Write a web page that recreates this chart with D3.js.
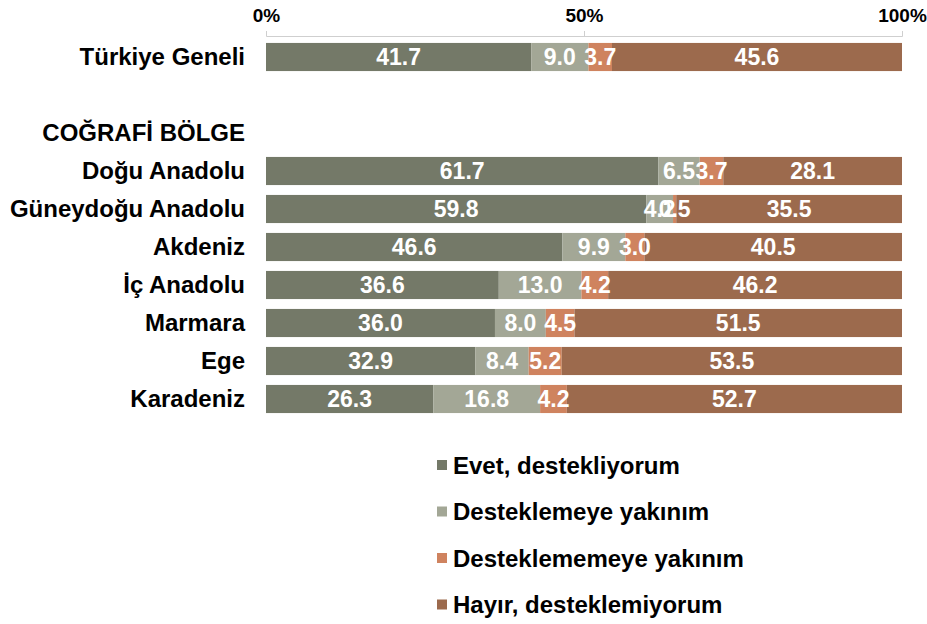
<!DOCTYPE html>
<html>
<head>
<meta charset="utf-8">
<script src="https://cdn.jsdelivr.net/npm/d3@7"></script>
<style>
  html, body { margin: 0; padding: 0; background: #fff; }
  svg text { font-family: "Liberation Sans", Arial, sans-serif; font-weight: bold; }
</style>
</head>
<body>
<svg id="chart" width="927" height="624"></svg>
<script>
// Row labels (blank row and section header carry no bars)
const rowLabels = ["Türkiye Geneli", "", "COĞRAFİ BÖLGE", "Doğu Anadolu", "Güneydoğu Anadolu",
                   "Akdeniz", "İç Anadolu", "Marmara", "Ege", "Karadeniz"];
const evet        = [41.7, null, null, 61.7, 59.8, 46.6, 36.6, 36.0, 32.9, 26.3];
const yakin       = [ 9.0, null, null,  6.5,  4.2,  9.9, 13.0,  8.0,  8.4, 16.8];
const yakinDegil  = [ 3.7, null, null,  3.7,  0.5,  3.0,  4.2,  4.5,  5.2,  4.2];
const hayir       = [45.6, null, null, 28.1, 35.5, 40.5, 46.2, 51.5, 53.5, 52.7];
const seriesNames = ["Evet, destekliyorum", "Desteklemeye yakınım",
                     "Desteklememeye yakınım", "Hayır, desteklemiyorum"];
const seriesColors = ["#747968", "#a3a796", "#cf835f", "#9c6a4d"];
const tickValues = [0, 50, 100];

const svg = d3.select("#chart");
const seriesValues = [evet, yakin, yakinDegil, hayir];

const x = d3.scaleLinear().domain([0, 100]).range([266, 902]);
const y = d3.scaleBand().domain(d3.range(rowLabels.length))
  .range([38, 418]).paddingInner(0.26).paddingOuter(0.13);

// Top percentage axis
const axis = svg.append("g")
  .attr("transform", "translate(0,36)")
  .call(d3.axisTop(x).tickValues(tickValues).tickFormat(d => d + "%")
        .tickSize(5).tickSizeOuter(5).tickPadding(9));
axis.selectAll("path, line").attr("stroke", "#cfcfcf");
axis.selectAll("text")
  .attr("fill", "#000").style("font-size", "19px")
  .style("font-family", '"Liberation Sans", Arial, sans-serif').style("font-weight", "bold");

// Row labels
svg.append("g").selectAll("text")
  .data(rowLabels)
  .join("text")
  .attr("x", 245)
  .attr("y", (d, i) => y(i) + y.bandwidth() / 2)
  .attr("dy", "0.35em")
  .attr("text-anchor", "end")
  .style("font-size", "24px")
  .attr("fill", "#000")
  .text(d => d);

// Stacked segments
const rows = rowLabels.map((label, i) => ({ i, vals: seriesValues.map(s => s[i]) }))
  .filter(r => r.vals[0] !== null);

const segs = [];
rows.forEach(r => {
  let acc = 0;
  r.vals.forEach((v, k) => {
    segs.push({ row: r.i, k, x0: acc, x1: acc + v, v });
    acc += v;
  });
});

svg.append("g").selectAll("rect")
  .data(segs)
  .join("rect")
  .attr("x", d => x(d.x0))
  .attr("width", d => x(d.x1) - x(d.x0))
  .attr("y", d => y(d.row))
  .attr("height", y.bandwidth())
  .attr("fill", d => seriesColors[d.k]);

svg.append("g").selectAll("text")
  .data(segs)
  .join("text")
  .attr("x", d => (x(d.x0) + x(d.x1)) / 2)
  .attr("y", d => y(d.row) + y.bandwidth() / 2)
  .attr("dy", "0.36em")
  .attr("text-anchor", "middle")
  .attr("fill", "#fff")
  .style("font-size", "23px")
  .text(d => d.v.toFixed(1));

// Legend
const legend = svg.append("g").selectAll("g")
  .data(seriesNames)
  .join("g")
  .attr("transform", (d, i) => `translate(437,${465 + i * 46.5})`);
legend.append("rect")
  .attr("x", 0).attr("y", -5).attr("width", 10).attr("height", 10)
  .attr("fill", (d, i) => seriesColors[i]);
legend.append("text")
  .attr("x", 16).attr("y", 0).attr("dy", "0.36em")
  .style("font-size", "24px")
  .attr("fill", "#000")
  .text(d => d);
</script>
</body>
</html>
